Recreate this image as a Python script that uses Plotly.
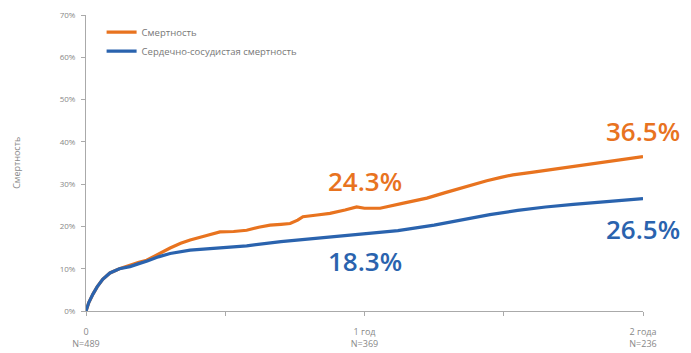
import plotly.graph_objects as go

# Data (years, %)
t_all = [0, 0.01, 0.025, 0.04, 0.06, 0.086, 0.12, 0.158, 0.19, 0.218, 0.26, 0.302, 0.34, 0.374,
         0.43, 0.481, 0.53, 0.577, 0.62, 0.661, 0.70, 0.733, 0.76, 0.779, 0.83, 0.876, 0.93, 0.972,
         1.0, 1.056, 1.14, 1.224, 1.29, 1.343, 1.39, 1.439, 1.49, 1.533, 1.60, 1.654, 1.74, 1.82,
         1.91, 2.0]
mort_all = [0, 2.0, 4.0, 5.7, 7.5, 9.0, 10.0, 10.9, 11.5, 12.0, 13.5, 14.9, 16.0, 16.8,
            17.8, 18.7, 18.8, 19.1, 19.8, 20.3, 20.5, 20.7, 21.5, 22.3, 22.7, 23.1, 23.9, 24.6,
            24.3, 24.3, 25.5, 26.7, 28.0, 29.0, 30.0, 30.8, 31.6, 32.2, 32.8, 33.3, 34.0, 34.9,
            35.6, 36.5]

t_cv = [0, 0.01, 0.025, 0.04, 0.06, 0.086, 0.12, 0.158, 0.19, 0.22, 0.26, 0.302, 0.374, 0.45,
        0.481, 0.577, 0.70, 0.80, 0.92, 1.0, 1.12, 1.25, 1.35, 1.45, 1.55, 1.65, 1.75, 1.85,
        1.93, 2.0]
mort_cv = [0, 2.0, 4.0, 5.7, 7.5, 9.0, 10.0, 10.5, 11.2, 11.8, 12.8, 13.6, 14.4, 14.8,
           15.0, 15.4, 16.4, 17.0, 17.8, 18.3, 19.0, 20.3, 21.5, 22.8, 23.8, 24.6, 25.2, 25.8,
           26.2, 26.6]

series_names = ["Смертность", "Сердечно-сосудистая смертность"]
colors = ["#E8731F", "#2A63AE"]

x_tick_vals = [0, 0.5, 1, 1.5, 2]
x_tick_text = ["0<br>N=489", "", "1 год<br>N=369", "", "2 года<br>N=236"]
y_tick_vals = [0, 10, 20, 30, 40, 50, 60, 70]
y_tick_text = [f"{v}%" for v in y_tick_vals]

labels = [
    (1.0, 30.7, "24.3%", 0),
    (2.0, 42.5, "36.5%", 0),
    (1.0, 11.8, "18.3%", 1),
    (2.0, 19.4, "26.5%", 1),
]

fig = go.Figure()
fig.add_trace(go.Scatter(x=t_all, y=mort_all, mode="lines", name=series_names[0],
                         line=dict(color=colors[0], width=3.2)))
fig.add_trace(go.Scatter(x=t_cv, y=mort_cv, mode="lines", name=series_names[1],
                         line=dict(color=colors[1], width=3.2)))

for x, y, txt, ci in labels:
    fig.add_annotation(x=x, y=y, text=txt, showarrow=False, xanchor="center", yanchor="middle",
                       font=dict(family="Open Sans", size=26, color=colors[ci], weight=600))

fig.add_annotation(xref="paper", yref="paper", x=-0.126, y=0.5, text="Смертность",
                   textangle=-90, showarrow=False, xanchor="center", yanchor="middle",
                   font=dict(family="Open Sans", size=9, color="#888888"))

fig.update_layout(
    width=683, height=345,
    margin=dict(l=78, r=48, t=7, b=42, autoexpand=False),
    paper_bgcolor="white", plot_bgcolor="white",
    showlegend=True,
    legend=dict(x=0.028, y=0.991, xanchor="left", yanchor="top",
                font=dict(family="Open Sans", size=9.5, color="#777777"),
                bgcolor="rgba(0,0,0,0)", tracegroupgap=0, itemwidth=30),
    xaxis=dict(range=[0, 2], tickvals=x_tick_vals, ticktext=x_tick_text, automargin=False,
               showgrid=False, zeroline=False, showline=True, linecolor="#aaaaaa", linewidth=1,
               ticks="outside", ticklen=4, tickcolor="#aaaaaa", ticklabelstandoff=8,
               tickfont=dict(family="Open Sans", size=9, color="#888888")),
    yaxis=dict(range=[0, 70], tickvals=y_tick_vals, ticktext=y_tick_text, automargin=False,
               showgrid=False, zeroline=False, showline=True, linecolor="#aaaaaa", linewidth=1,
               ticks="outside", ticklen=4, tickcolor="#aaaaaa", ticklabelstandoff=4,
               tickfont=dict(family="Open Sans", size=8, color="#888888")),
)

fig.write_html("out.html")
